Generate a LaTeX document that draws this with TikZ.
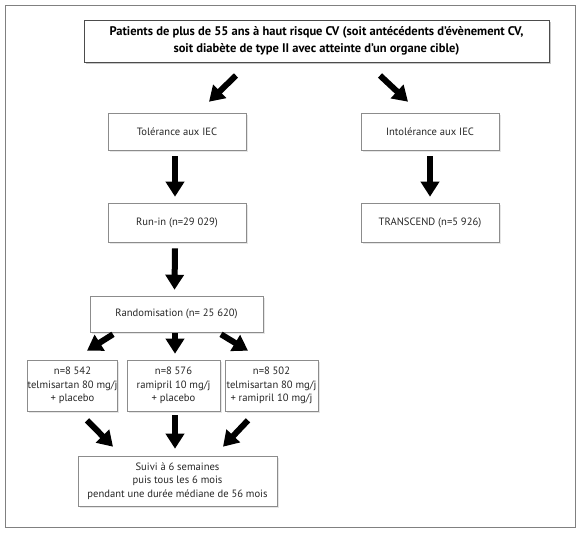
\documentclass[tikz,border=0pt]{standalone}
\usepackage{fontspec}
\setmainfont{PT Sans}
\usepackage{tikz}
\usetikzlibrary{arrows.meta,positioning,shadows}

\begin{document}
\begin{tikzpicture}[x=1pt,y=-1pt,
  box/.style={draw=black!45,line width=0.6pt,fill=white,align=center,inner sep=0pt,
    text=black!85,font=\fontsize{10.6}{13.5}\selectfont,
    drop shadow={shadow xshift=1.5pt,shadow yshift=-1.5pt,opacity=0.2}},
  headbox/.style={box,draw=black!70,line width=1pt,text=black,
    font=\fontsize{12.5}{16.5}\selectfont\bfseries,
    drop shadow={shadow xshift=2pt,shadow yshift=-2pt,opacity=0.3}},
  bigarrow/.style={line width=6pt,-{Triangle[width=18pt,length=15pt]}}]
\useasboundingbox (0,0) rectangle (580,533);
\draw[black!50,line width=0.8pt] (5,5) rectangle (575,527);

% boxes
\node[headbox,minimum width=465,minimum height=42] (top) at (316.5,41)
  {Patients de plus de 55 ans à haut risque CV (soit antécédents d’évènement CV,\\
   soit diabète de type II avec atteinte d’un organe cible)};
\node[box,minimum width=138,minimum height=37] (tol) at (177,131.5) {Tolérance aux IEC};
\node[box,minimum width=138,minimum height=37] (intol) at (430,131.5) {Intolérance aux IEC};
\node[box,minimum width=138,minimum height=39] (runin) at (177,222.5) {Run-in (n=29 029)};
\node[box,minimum width=138,minimum height=39] (trans) at (430,222.5) {TRANSCEND (n=5 926)};
\node[box,minimum width=173,minimum height=36] (rand) at (176.5,314) {Randomisation (n= 25 620)};
\node[box,minimum width=89,minimum height=51] (telmi) at (72.5,385.5)
  {n=8 542\\ telmisartan 80 mg/j\\ + placebo};
\node[box,minimum width=93,minimum height=51] (rami) at (173.5,385.5)
  {n=8 576\\ ramipril 10 mg/j\\ + placebo};
\node[box,minimum width=93,minimum height=51] (combo) at (271.5,385.5)
  {n=8 502\\ telmisartan 80 mg/j\\ + ramipril 10 mg/j};
\node[box,minimum width=199,minimum height=50] (suivi) at (177.5,481)
  {Suivi à 6 semaines\\ puis tous les 6 mois\\ pendant une durée médiane de 56 mois};

% arrows
\draw[bigarrow] ([shift={(-80.5,13)}]top.south) -- ([shift={(32,-11)}]tol.north);
\draw[bigarrow] ([shift={(63.5,13)}]top.south) -- ([shift={(-22,-11)}]intol.north);
\draw[bigarrow] ([shift={(-2,6)}]tol.south) -- ([shift={(-2,-6)}]runin.north);
\draw[bigarrow] ([yshift=-6]intol.south) -- ([yshift=6]trans.north);
\draw[bigarrow] ([shift={(-2,6)}]runin.south) -- ([shift={(-2,-6)}]rand.north);
\draw[bigarrow] ([shift={(-63.5,2)}]rand.south) -- ([shift={(14.5,-9)}]telmi.north);
\draw[bigarrow] ([shift={(-1.5,1)}]rand.south) -- ([shift={(1.5,-6)}]rami.north);
\draw[bigarrow] ([shift={(44.5,2)}]rand.south) -- ([shift={(-23.5,-9)}]combo.north);
\draw[bigarrow] ([shift={(14.5,9)}]telmi.south) -- ([shift={(-64.5,-9)}]suivi.north);
\draw[bigarrow] ([shift={(1.5,4)}]rami.south) -- ([shift={(-2.5,-7)}]suivi.north);
\draw[bigarrow] ([shift={(-23.5,9)}]combo.south) -- ([shift={(45.5,-9)}]suivi.north);
\end{tikzpicture}
\end{document}
